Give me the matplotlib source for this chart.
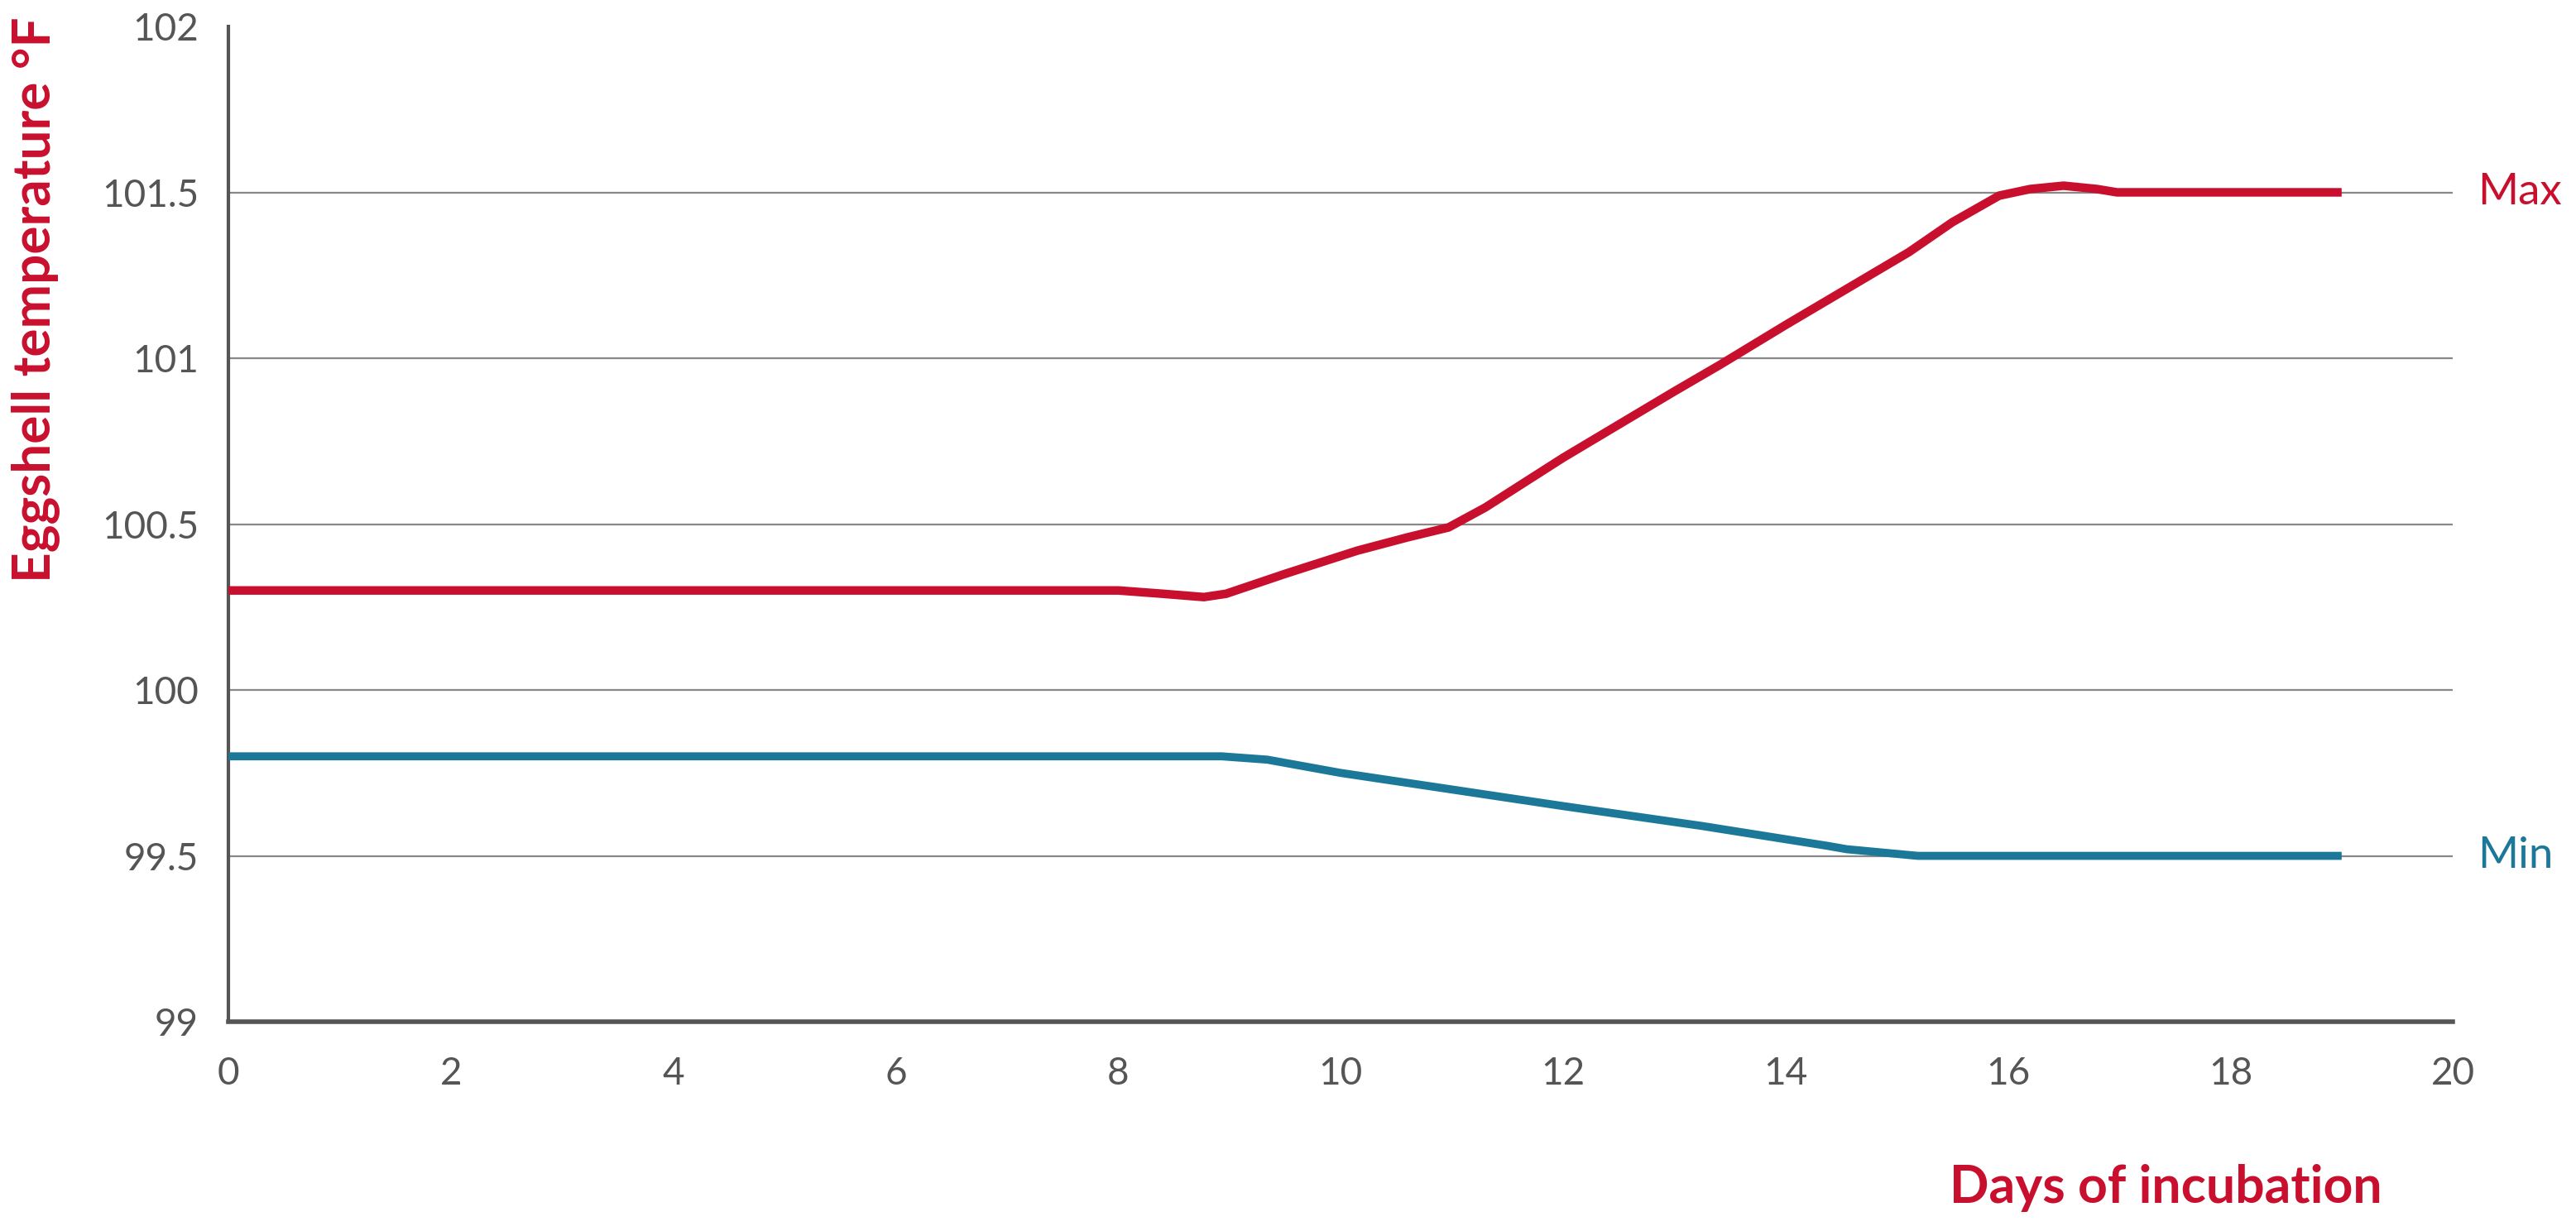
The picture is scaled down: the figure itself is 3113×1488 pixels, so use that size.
import matplotlib
matplotlib.use("Agg")
import matplotlib.pyplot as plt

# eggshell temperature targets
max_days = [0, 2, 4, 6, 8, 8.4, 8.77, 8.97, 9.5, 10.15, 10.6, 10.97, 11.3,
            12, 13, 13.41, 14, 15.11, 15.5, 15.92, 16.2, 16.5, 16.8, 16.98, 18, 19]
max_temp = [100.3, 100.3, 100.3, 100.3, 100.3, 100.29, 100.28, 100.29, 100.35, 100.42, 100.46, 100.49, 100.55,
            100.7, 100.9, 100.98, 101.1, 101.32, 101.41, 101.49, 101.51, 101.52, 101.51, 101.5, 101.5, 101.5]

min_days = [0, 2, 4, 6, 8, 8.93, 9.34, 10, 11, 12, 13.25, 14.38, 14.55, 15.19, 16, 18, 19]
min_temp = [99.8, 99.8, 99.8, 99.8, 99.8, 99.8, 99.79, 99.75, 99.7, 99.65, 99.59, 99.53, 99.52, 99.5, 99.5, 99.5, 99.5]

x_ticks = [0, 2, 4, 6, 8, 10, 12, 14, 16, 18, 20]
y_ticks = [99, 99.5, 100, 100.5, 101, 101.5, 102]
y_ticklabels = ["99", "99.5", "100", "100.5", "101", "101.5", "102"]

red = "#C8102E"
teal = "#1B7898"
grey = "#555555"

fig = plt.figure(figsize=(31.13, 14.88), dpi=100)
ax = fig.add_axes([0.0887, 0.170, 0.8635, 0.8085])

ax.plot(max_days, max_temp, color=red, lw=7.5, solid_capstyle="butt", zorder=3)
ax.plot(min_days, min_temp, color=teal, lw=7, solid_capstyle="butt", zorder=3)

ax.set_xlim(0, 20)
ax.set_ylim(99, 102)
ax.set_xticks(x_ticks)
ax.set_yticks(y_ticks)
ax.set_yticklabels(y_ticklabels)
ax.tick_params(length=0, labelsize=33, labelcolor=grey)
ax.tick_params(axis="x", pad=30)
ax.tick_params(axis="y", pad=26)
for lab in ax.get_xticklabels() + ax.get_yticklabels():
    lab.set_family("Lato")

ax.grid(axis="y", color="#888888", lw=1.6, zorder=1)
ax.get_ygridlines()[-1].set_visible(False)
ax.get_ygridlines()[0].set_visible(False)

for s in ["top", "right"]:
    ax.spines[s].set_visible(False)
ax.spines["left"].set_color(grey)
ax.spines["left"].set_linewidth(3)
ax.spines["bottom"].set_color(grey)
ax.spines["bottom"].set_linewidth(4)

ax.set_ylabel("Eggshell temperature °F", fontsize=46, fontweight="bold",
              color=red, family="Lato", loc="top")
ax.yaxis.set_label_coords(-0.0759, 1.01)

ax.set_xlabel("Days of incubation", fontsize=45, fontweight="bold",
              color=red, family="Lato", ha="right", va="center")
ax.xaxis.set_label_coords(0.968, -0.167)

ax.text(20.22, 101.5, "Max", color=red, fontsize=38, family="Lato",
        va="center", ha="left", clip_on=False)
ax.text(20.22, 99.5, "Min", color=teal, fontsize=38, family="Lato",
        va="center", ha="left", clip_on=False)

fig.savefig("out.png", dpi=100, facecolor="white")
